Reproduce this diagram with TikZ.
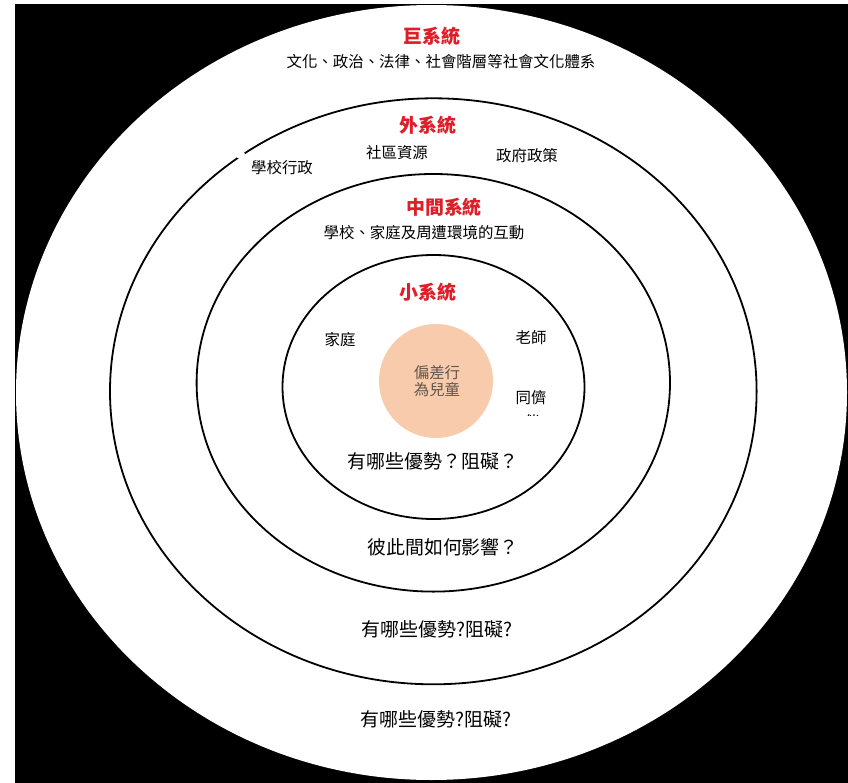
\documentclass[tikz,border=0pt]{standalone}
\usepackage{fontspec}
\newfontfamily\cjk{Noto Sans CJK TC}
\definecolor{titlered}{RGB}{222,30,40}
\definecolor{peach}{RGB}{248,203,173}
\definecolor{innertext}{RGB}{95,85,75}
\begin{document}
\begin{tikzpicture}[x=1bp,y=-1bp,
  ring/.style={draw=black,line width=1.8bp},
  title/.style={font=\cjk\bfseries\fontsize{19}{22}\selectfont,text=titlered,inner sep=0pt},
  lbl/.style={font=\cjk\fontsize{15.5}{18}\selectfont,inner sep=0pt},
  question/.style={font=\cjk\fontsize{19}{22}\selectfont,inner sep=0pt},
  centertext/.style={font=\cjk\fontsize{15.5}{18}\selectfont,text=innertext,inner sep=0pt,align=center}]
\useasboundingbox (0,0) rectangle (848,783);
\fill[white] (0,0) rectangle (848,783);
\fill[black] (15,4) rectangle (848,783);
% rings
\fill[white] (431.5,392.5) ellipse [x radius=415.5, y radius=387.5];
\draw[ring] (433.3,391.3) ellipse [x radius=323.3, y radius=293];
\fill[white] (240.5,154.5) circle [radius=4.5];
\draw[ring] (433.3,382.8) ellipse [x radius=236.7, y radius=208.8];
\draw[ring] (433.5,387) ellipse [x radius=151, y radius=132];
\fill[peach] (436,381) circle [radius=57];
% macro
\node[title] (macro) at (432,36) {巨系統};
\node[lbl] (macrotxt) at (441,62) {文化、政治、法律、社會階層等社會文化體系};
% exo
\node[title] (exo) at (428,125) {外系統};
\node[lbl] (community) at (397,153) {社區資源};
\node[lbl] (gov) at (527,156) {政府政策};
\node[lbl] (schooladm) at (282,168) {學校行政};
% meso
\node[title] (meso) at (444,207) {中間系統};
\node[lbl] (mesotxt) at (424,233) {學校、家庭及周遭環境的互動};
% micro
\node[title] (micro) at (428,292) {小系統};
\node[lbl] (family) at (340,340) {家庭};
\node[lbl] (teacher) at (531,338) {老師};
\node[lbl] (peer) at (531,398) {同儕};
\begin{scope}
\clip (515,408) rectangle (550,415);
\node[lbl] (peer2) at (532,422) {伴};
\end{scope}
\node[centertext] (child) at (437,381) {偏差行\\[-1pt]為兒童};
% questions
\node[question] (q1) at (433,461) {有哪些優勢？阻礙？};
\node[question] (q2) at (443,547) {彼此間如何影響？};
\node[question] (q3) at (437,629) {有哪些優勢?阻礙?};
\node[question] (q4) at (436,719) {有哪些優勢?阻礙?};
\end{tikzpicture}
\end{document}
